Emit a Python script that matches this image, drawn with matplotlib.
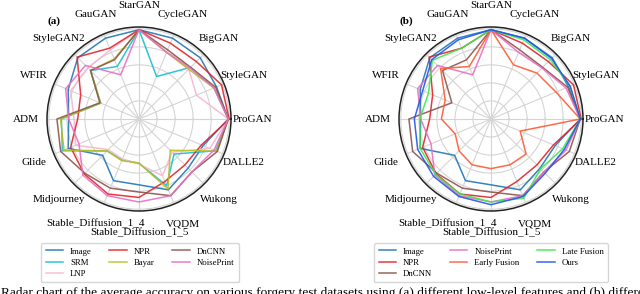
import numpy as np
import matplotlib
matplotlib.use("Agg")
import matplotlib.pyplot as plt

plt.rcParams['font.family'] = ['Liberation Serif', 'DejaVu Serif']

categories = ['ProGAN', 'StyleGAN', 'BigGAN', 'CycleGAN', 'StarGAN', 'GauGAN',
              'StyleGAN2', 'WFIR', 'ADM', 'Glide', 'Midjourney',
              'Stable_Diffusion_1_4', 'Stable_Diffusion_1_5', 'VQDM', 'Wukong', 'DALLE2']

# (a) low-level features
image = [0.99, 0.93, 0.96, 0.97, 0.99, 0.97, 0.96, 0.85, 0.78, 0.85, 0.57, 0.74, 0.73, 0.85, 0.77, 0.77]
srm = [0.99, 0.90, 0.81, 0.51, 0.99, 0.63, 0.76, 0.46, 0.86, 0.92, 0.50, 0.49, 0.49, 0.80, 0.55, 0.92]
lnp = [0.99, 0.69, 0.78, 0.80, 0.99, 0.83, 0.80, 0.82, 0.72, 0.76, 0.48, 0.48, 0.50, 0.68, 0.52, 0.85]
npr = [1.00, 0.99, 0.90, 0.91, 0.99, 0.85, 0.97, 0.70, 0.68, 0.82, 0.86, 0.90, 0.87, 0.75, 0.72, 0.75]
bayar = [0.99, 0.90, 0.78, 0.80, 0.99, 0.72, 0.76, 0.46, 0.87, 0.90, 0.50, 0.50, 0.49, 0.84, 0.49, 0.93]
dncnn = [0.99, 0.92, 0.81, 0.83, 0.99, 0.71, 0.76, 0.47, 0.91, 0.94, 0.85, 0.83, 0.81, 0.92, 0.83, 0.94]
noiseprint = [0.99, 0.90, 0.80, 0.80, 0.99, 0.53, 0.84, 0.88, 0.78, 0.72, 0.88, 0.92, 0.92, 0.92, 0.83, 0.90]

# (b) fusion strategies
early_fusion = [0.99, 0.78, 0.72, 0.65, 0.99, 0.63, 0.79, 0.55, 0.55, 0.43, 0.50, 0.55, 0.55, 0.55, 0.55, 0.35]
late_fusion = [0.99, 0.95, 0.93, 0.95, 0.99, 0.85, 0.92, 0.75, 0.79, 0.85, 0.87, 0.90, 0.92, 0.95, 0.78, 0.86]
ours = [0.99, 0.95, 0.95, 0.97, 0.99, 0.95, 0.93, 0.82, 0.85, 0.88, 0.90, 0.93, 0.95, 0.93, 0.85, 0.88]

labels_a = ['Image', 'SRM', 'LNP', 'NPR', 'Bayar', 'DnCNN', 'NoisePrint']
series_a = [image, srm, lnp, npr, bayar, dncnn, noiseprint]
colors_a = ['#1f77b4', '#17becf', '#f7b6d2', '#e3242b', '#bcbd22', '#8c564b', '#e96ec6']

labels_b = ['Image', 'NPR', 'DnCNN', 'NoisePrint', 'Early Fusion', 'Late Fusion', 'Ours']
series_b = [image, npr, dncnn, noiseprint, early_fusion, late_fusion, ours]
colors_b = ['#1f77b4', '#e3242b', '#8c564b', '#e96ec6', '#ff5a36', '#3ee84e', '#2255ee']

caption = ("Radar chart of the average accuracy on various forgery test datasets using "
           "(a) different low-level features and (b) different fusion strategies.")

W, H = 640, 294
fig = plt.figure(figsize=(W / 100, H / 100), dpi=100)

n = len(categories)
theta = np.linspace(0, 2 * np.pi, n, endpoint=False)
theta_c = np.concatenate([theta, theta[:1]])


def radar(cx, cy, r, series, labels, colors, tag, legend_cx):
    ax = fig.add_axes([(cx - r) / W, (H - cy - r) / H, 2 * r / W, 2 * r / H], projection='polar')
    for vals, lab, col in zip(series, labels, colors):
        v = np.concatenate([vals, vals[:1]])
        ax.plot(theta_c, v, color=col, lw=1.1, alpha=0.9, label=lab)
    ax.set_ylim(0, 1.02)
    ax.set_yticks([0.2, 0.4, 0.6, 0.8, 1.0])
    ax.set_yticklabels([])
    ax.set_xticks(theta)
    ax.set_xticklabels(categories, fontsize=8)
    ax.tick_params(axis='x', pad=5)
    ax.grid(color='#d4d4d4', lw=0.8)
    ax.spines['polar'].set_color('#222222')
    ax.spines['polar'].set_linewidth(1.1)
    ax.text(0.0, 1.03, tag, transform=ax.transAxes, fontsize=8, fontweight='bold',
            ha='left', va='center')
    fig.legend(loc='upper center', bbox_to_anchor=(legend_cx / W, (H - 243) / H),
               ncol=3, fontsize=6.3, frameon=True, handlelength=2.0,
               labelspacing=0.35, columnspacing=2.0, borderpad=0.5, borderaxespad=0,
               handles=ax.get_lines(), labels=labels)
    return ax


radar(139, 119, 92, series_a, labels_a, colors_a, '(a)', 140)
radar(491, 119, 92, series_b, labels_b, colors_b, '(b)', 491)

fig.text(1 / W, -2 / H, caption, fontsize=9.6, ha='left', va='baseline')

fig.savefig('out.png', dpi=100)
